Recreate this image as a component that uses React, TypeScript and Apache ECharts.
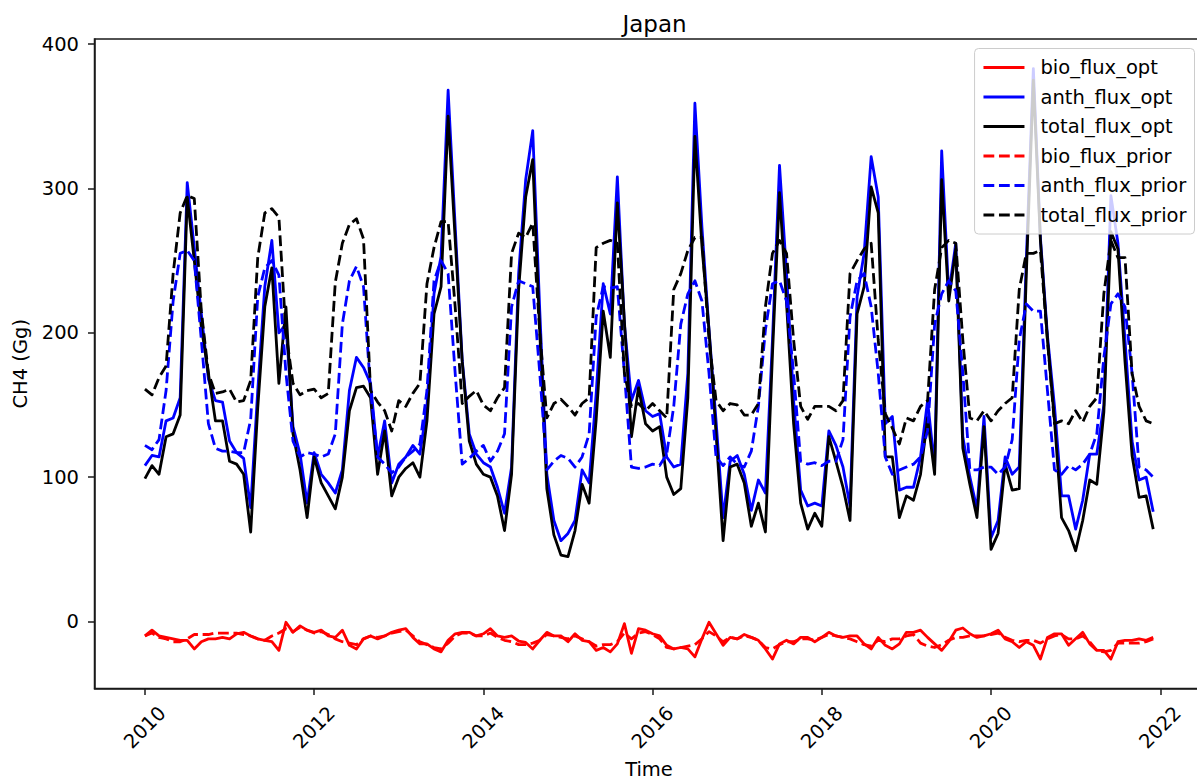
import React, { useEffect, useRef } from "react";
import * as echarts from "echarts";

// Monthly time index: Jan 2010 .. Dec 2021 (144 months)
const START_YEAR = 2010;
const N_MONTHS = 144;

const xTicks = [2010, 2012, 2014, 2016, 2018, 2020, 2022];
const yTicks = [0, 100, 200, 300, 400];

const bioFluxOpt = [
  -10, -6, -10, -11, -12, -13, -13, -19, -14, -12, -12, -11,
  -12, -8.5, -7.5, -10, -12, -13, -14, -20, -0.5, -7.5, -3, -6,
  -7.5, -6, -10, -11, -6, -16.5, -19, -12, -10, -12, -10, -7.5,
  -6, -5, -11, -15.5, -15.5, -19, -21, -13, -8.5, -7.5, -7.5, -10,
  -8.5, -5, -10, -11, -10, -13.5, -14.5, -19, -13, -7.5, -10, -10,
  -14, -8.5, -13, -14, -20, -18, -21, -15.5, -1.5, -22, -5, -6,
  -8.5, -10, -16.5, -19, -18, -19, -24.5, -12, -0.5, -8.5, -16.5, -11,
  -12, -9, -11, -13, -19, -26, -15.5, -13, -15.5, -11, -11, -14,
  -11, -7.5, -10, -11, -10, -10, -15.5, -19, -11, -16.5, -19, -15.5,
  -7.5, -7.5, -6, -11, -15.5, -20, -14, -6, -4.5, -8.5, -11, -10,
  -8.5, -6, -12, -14, -18, -14, -16.5, -26, -11, -8.5, -8.5, -16.5,
  -12, -7.5, -15.5, -20, -20, -26, -14, -13, -13, -12, -13, -11,
];

const anthFluxOpt = [
  108, 115, 114, 139, 141, 155, 304, 259, 213, 168, 153, 152,
  125, 117, 113, 79, 160, 232, 264, 200, 206, 135, 116, 82,
  117, 102, 96, 89, 105, 160, 183, 176, 165, 114, 139, 96,
  109, 114, 122, 116, 149, 227, 253, 368, 274, 181, 130, 116,
  110, 107, 93, 75, 107, 241, 306, 340, 215, 102, 70, 56,
  61, 70, 105, 96, 158, 234, 213, 308, 206, 153, 167, 146,
  142, 144, 114, 107, 109, 172, 359, 273, 202, 139, 72, 111,
  115, 102, 77, 98, 89, 195, 316, 241, 153, 91, 80, 82,
  80, 132, 122, 107, 80, 225, 255, 322, 294, 137, 142, 91,
  93, 93, 114, 153, 107, 326, 227, 262, 128, 100, 78, 142,
  58, 70, 114, 102, 107, 250, 383, 266, 198, 149, 87, 87,
  64, 84, 116, 116, 150, 295, 262, 195, 125, 98, 100, 76,
];

const totalFluxOpt = [
  99, 108, 102, 128, 130, 143, 294, 250, 204, 172, 139, 139,
  111, 109, 102, 62, 148, 218, 245, 165, 218, 130, 105, 72,
  114, 96, 87, 78, 100, 146, 162, 163, 155, 102, 132, 87,
  100, 106, 110, 100, 139, 213, 232, 350, 265, 180, 125, 109,
  102, 100, 87, 63, 102, 230, 294, 320, 200, 92, 60, 46,
  45, 63, 95, 82, 140, 215, 183, 290, 208, 128, 162, 137,
  132, 135, 100, 88, 92, 155, 336, 260, 202, 130, 56, 107,
  109, 96, 66, 82, 62, 185, 297, 220, 137, 82, 64, 75,
  66, 128, 111, 93, 70, 213, 232, 301, 283, 114, 114, 72,
  87, 84, 102, 141, 102, 306, 222, 258, 120, 95, 72, 135,
  50, 61, 109, 91, 92, 240, 375, 264, 195, 139, 72, 63,
  49, 70, 98, 95, 145, 270, 258, 180, 115, 86, 87, 64,
];

const bioFluxPrior = [
  -10, -8, -11, -12, -14, -14, -12, -9, -9, -9, -8, -8,
  -8, -8, -9, -10, -12, -13, -10, -8, -5, -7, -4, -6,
  -8, -7, -9, -12, -14, -15, -16, -12, -10, -11, -10, -8,
  -7, -6, -10, -14, -16, -18, -19, -15, -10, -8, -8, -10,
  -10, -8, -11, -13, -14, -16, -16, -15, -13, -9, -10, -11,
  -12, -10, -12, -14, -17, -16, -16, -14, -8, -12, -8, -7,
  -9, -12, -18, -19, -18, -17, -16, -12, -7, -10, -14, -11,
  -12, -10, -11, -13, -18, -19, -16, -14, -14, -12, -12, -13,
  -11, -9, -10, -11, -12, -14, -16, -17, -13, -14, -12, -12,
  -10, -9, -15, -17, -18, -16, -13, -11, -11, -10, -10, -10,
  -9, -8, -11, -13, -14, -13, -13, -15, -12, -10, -9, -12,
  -12, -10, -14, -20, -21, -20, -15, -15, -15, -15, -14, -12,
];

const anthFluxPrior = [
  122, 119, 126, 160, 222, 255, 257, 250, 195, 137, 120, 118,
  118, 117, 117, 140, 225, 245, 250, 240, 172, 125, 114, 117,
  116, 114, 116, 130, 206, 236, 246, 232, 160, 114, 109, 103,
  107, 114, 118, 123, 160, 236, 250, 241, 172, 109, 113, 118,
  122, 111, 118, 130, 218, 236, 234, 232, 172, 105, 111, 115,
  113, 107, 114, 130, 211, 232, 231, 232, 172, 107, 106, 107,
  109, 108, 116, 149, 206, 227, 236, 222, 172, 114, 108, 114,
  109, 107, 118, 149, 202, 234, 236, 222, 172, 111, 109, 110,
  108, 111, 111, 126, 211, 236, 241, 218, 172, 114, 102, 105,
  107, 109, 114, 132, 206, 227, 236, 229, 172, 105, 105, 107,
  107, 102, 107, 126, 195, 220, 215, 215, 160, 105, 102, 108,
  105, 109, 116, 130, 183, 220, 227, 218, 172, 107, 105, 100,
];

const totalFluxPrior = [
  161, 157, 169, 177, 241, 283, 295, 293, 215, 172, 158, 159,
  161, 152, 153, 167, 252, 283, 286, 280, 200, 165, 157, 160,
  161, 155, 158, 235, 262, 275, 279, 265, 160, 152, 146, 132,
  153, 149, 158, 165, 234, 259, 277, 277, 218, 151, 156, 160,
  150, 146, 155, 162, 255, 269, 266, 276, 200, 141, 151, 154,
  149, 143, 151, 155, 259, 262, 264, 262, 172, 149, 151, 146,
  151, 146, 141, 230, 241, 257, 266, 266, 195, 153, 146, 151,
  150, 143, 143, 151, 218, 255, 264, 255, 195, 149, 140, 149,
  149, 149, 146, 153, 241, 250, 258, 262, 195, 144, 134, 123,
  141, 139, 149, 153, 230, 259, 264, 262, 195, 141, 139, 146,
  139, 146, 151, 155, 230, 255, 255, 257, 195, 137, 139, 137,
  146, 138, 149, 155, 227, 264, 252, 252, 172, 149, 139, 137,
];

const FONT = "DejaVu Sans";

function monthX(i: number): number {
  return START_YEAR + i / 12;
}

function toPairs(values: number[]): [number, number][] {
  return values.slice(0, N_MONTHS).map((v, i) => [monthX(i), v]);
}

const DASH = [10.8, 4.7];
const LW = 2.8;
const SPINE = "#1a1a1a";
const SPINE_W = 1.5;

export default function App() {
  const ref = useRef<HTMLDivElement>(null);

  useEffect(() => {
    if (!ref.current) return;
    const chart = echarts.init(ref.current, null, { renderer: "svg" });

    const mk = (name: string, data: number[], color: string, dashed: boolean) => ({
      name,
      type: "line",
      data: toPairs(data),
      symbol: "none",
      showSymbol: false,
      smooth: false,
      lineStyle: { color, width: LW, type: dashed ? DASH : "solid", cap: "butt", join: "round" },
      itemStyle: { color },
      emphasis: { disabled: true },
      z: 2,
    });

    const option: any = {
      animation: false,
      backgroundColor: "#ffffff",
      textStyle: { fontFamily: FONT },
      title: {
        text: "Japan",
        left: 649.5,
        top: 7,
        textAlign: "center",
        textStyle: { fontFamily: FONT, fontSize: 23, fontWeight: "normal", color: "#000" },
      },
      grid: {
        left: 94.5,
        top: 39,
        width: 1109,
        height: 649.5,
        show: true,
        borderColor: SPINE,
        borderWidth: SPINE_W,
        backgroundColor: "transparent",
        containLabel: false,
        outerBoundsMode: "none",
      },
      legend: {
        orient: "vertical",
        right: 2.5,
        top: 48.5,
        itemWidth: 41,
        itemHeight: 0.1,
        itemGap: 9.5,
        padding: [9, 8, 9, 7.5],
        backgroundColor: "rgba(255,255,255,0.8)",
        borderColor: "#cccccc",
        borderWidth: 1,
        borderRadius: 4,
        selectedMode: false,
        itemStyle: { opacity: 0 },
        lineStyle: { width: LW },
        textStyle: { fontFamily: FONT, fontSize: 19.5, color: "#000", lineHeight: 20, padding: [0, 0, 0, 11] },
        data: [
          "bio_flux_opt",
          "anth_flux_opt",
          "total_flux_opt",
          "bio_flux_prior",
          "anth_flux_prior",
          "total_flux_prior",
        ],
      },
      xAxis: {
        type: "value",
        min: 2009.404,
        max: 2022.511,
        name: "Time",
        nameLocation: "middle",
        nameGap: 70,
        nameTextStyle: { fontFamily: FONT, fontSize: 19.5, color: "#000" },
        axisLine: { show: true, onZero: false, lineStyle: { color: SPINE, width: SPINE_W } },
        axisTick: { show: true, length: 6.5, customValues: xTicks, lineStyle: { color: SPINE, width: SPINE_W } },
        axisLabel: {
          customValues: xTicks,
          rotate: 45,
          align: "center",
          verticalAlign: "middle",
          margin: 39,
          fontFamily: FONT,
          fontSize: 19.5,
          color: "#000",
          formatter: (v: number) => String(Math.round(v)),
        },
        splitLine: { show: false },
      },
      yAxis: {
        type: "value",
        min: -46.4,
        max: 403.5,
        name: "CH4 (Gg)",
        nameLocation: "middle",
        nameRotate: 90,
        nameGap: 63,
        nameTextStyle: { fontFamily: FONT, fontSize: 19.5, color: "#000" },
        axisLine: { show: true, onZero: false, lineStyle: { color: SPINE, width: SPINE_W } },
        axisTick: { show: true, length: 6.5, customValues: yTicks, lineStyle: { color: SPINE, width: SPINE_W } },
        axisLabel: {
          customValues: yTicks,
          margin: 15.5,
          fontFamily: FONT,
          fontSize: 19.5,
          color: "#000",
          formatter: (v: number) => String(Math.round(v)),
        },
        splitLine: { show: false },
      },
      series: [
        mk("bio_flux_opt", bioFluxOpt, "#ff0000", false),
        mk("anth_flux_opt", anthFluxOpt, "#0000ff", false),
        mk("total_flux_opt", totalFluxOpt, "#000000", false),
        mk("bio_flux_prior", bioFluxPrior, "#ff0000", true),
        mk("anth_flux_prior", anthFluxPrior, "#0000ff", true),
        mk("total_flux_prior", totalFluxPrior, "#000000", true),
      ],
    };

    chart.setOption(option);
    return () => chart.dispose();
  }, []);

  return (
    <div
      ref={ref}
      style={{ position: "fixed", left: 0, top: 0, width: 1197, height: 781, background: "#fff" }}
    />
  );
}
